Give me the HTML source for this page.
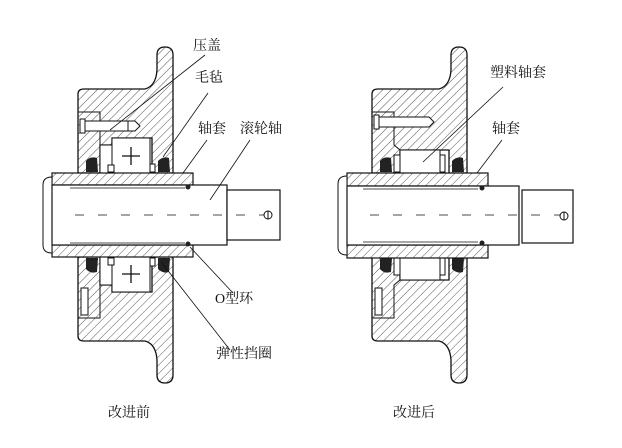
<!DOCTYPE html>
<html><head><meta charset="utf-8"><style>
html,body{margin:0;padding:0;background:#fff;width:622px;height:448px;overflow:hidden}
svg{display:block}
text{font-family:"Liberation Serif","Noto Serif CJK SC","Noto Sans CJK SC",serif;font-size:14px;fill:#111}
</style></head><body>
<svg width="622" height="448" viewBox="0 0 622 448" xmlns="http://www.w3.org/2000/svg">
<defs>
<pattern id="h" patternUnits="userSpaceOnUse" width="6" height="6" patternTransform="rotate(45)">
<rect width="6" height="6" fill="#fff"/><line x1="0" y1="0" x2="0" y2="6" stroke="#444" stroke-width="0.9"/>
</pattern>
<pattern id="hm" patternUnits="userSpaceOnUse" width="6" height="6" patternTransform="rotate(-45)">
<rect width="6" height="6" fill="#fff"/><line x1="0" y1="0" x2="0" y2="6" stroke="#444" stroke-width="0.9"/>
</pattern>
<g id="sealsL">
<path d="M78,112 L100,112 L100,145" fill="none" stroke="#111" stroke-width="1"/>
<path d="M86,172 L86,161 Q90,156 97,158 L98,172 Z" fill="#222"/>
<path d="M158,172 L158,161 Q163,156 169,158 L170,172 Z" fill="#222"/>
<rect x="100" y="145" width="12" height="28" fill="#fff" stroke="#111"/>
<rect x="112" y="138" width="38" height="35" fill="#fff" stroke="#111"/>
<rect x="108" y="165" width="6" height="7" fill="#fff" stroke="#111"/>
<rect x="150" y="164" width="5" height="8" fill="#fff" stroke="#111"/>
<path d="M131,147 V165 M122,156 H140" stroke="#111" stroke-width="1.3"/>
</g>
<path id="bodyL" d="M78,94 Q78,89 84,89 L145,89 Q156,86 157,70 L157,55 Q157,47 165,47 Q173,47 173,55 L173,173 L152,173 L152,138 L112,138 L112,145 L100,145 L100,173 L78,173 Z"/>
<g id="sealsR">
<path d="M78,112 L100,112 L100,145 L106,150" fill="none" stroke="#111" stroke-width="1"/>
<path d="M86,172 L86,161 Q90,156 97,158 L98,172 Z" fill="#222"/>
<path d="M158,172 L158,161 Q163,156 169,158 L170,172 Z" fill="#222"/>
<rect x="100" y="155" width="6" height="17" fill="#fff" stroke="#111"/>
<rect x="106" y="150" width="40" height="23" fill="#fff" stroke="#111"/>
<rect x="146" y="155" width="5" height="17" fill="#fff" stroke="#111"/>
</g>
<path id="bodyR" d="M78,94 Q78,89 84,89 L145,89 Q156,86 157,70 L157,55 Q157,47 165,47 Q173,47 173,55 L173,173 L155,173 L155,150 L106,150 L106,173 L78,173 Z"/>
</defs>

<!-- LEFT -->
<use href="#bodyL" fill="url(#h)" stroke="#111" stroke-width="1.3"/>
<use href="#sealsL"/>
<g transform="translate(0,430) scale(1,-1)">
<use href="#bodyL" fill="url(#hm)" stroke="#111" stroke-width="1.3"/>
<use href="#sealsL"/>
</g>
<path d="M82,121 L135,121 L140,126 L135,131 L82,131 Z" fill="#fff" stroke="#111"/>
<rect x="80" y="119" width="5" height="14" fill="#fff" stroke="#111"/>
<line x1="128" y1="121" x2="128" y2="131" stroke="#111"/>
<rect x="81" y="288" width="7" height="27" fill="#fff" stroke="#111"/>
<rect x="52" y="173" width="141" height="12" fill="url(#h)" stroke="#111" stroke-width="1.2"/>
<rect x="52" y="245" width="141" height="12" fill="url(#h)" stroke="#111" stroke-width="1.2"/>
<path d="M52,177 Q43,177 43,185 L43,245 Q43,253 52,253 Z" fill="#fff" stroke="#111"/>
<rect x="52" y="185" width="175" height="60" fill="#fff" stroke="#111" stroke-width="1.2"/>
<line x1="70" y1="188" x2="185" y2="188" stroke="#111" stroke-width="0.8"/>
<line x1="70" y1="243" x2="185" y2="243" stroke="#111" stroke-width="0.8"/>
<circle cx="188" cy="187" r="2.5" fill="#222"/><circle cx="188" cy="244" r="2.5" fill="#222"/>
<rect x="227" y="190" width="53" height="50" fill="#fff" stroke="#111" stroke-width="1.2"/>
<line x1="75" y1="215" x2="270" y2="215" stroke="#111" stroke-width="0.8" stroke-dasharray="9,14"/>
<circle cx="268" cy="215" r="4" fill="#fff" stroke="#111"/><line x1="268" y1="211" x2="268" y2="219" stroke="#111"/>

<!-- RIGHT -->
<g transform="translate(294,0)">
<use href="#bodyR" fill="url(#h)" stroke="#111" stroke-width="1.3"/>
<use href="#sealsR"/>
</g>
<g transform="translate(294,430) scale(1,-1)">
<use href="#bodyR" fill="url(#hm)" stroke="#111" stroke-width="1.3"/>
<use href="#sealsR"/>
</g>
<path d="M376,117 L429,117 L434,122 L429,127 L376,127 Z" fill="#fff" stroke="#111"/>
<rect x="374" y="115" width="5" height="14" fill="#fff" stroke="#111"/>
<rect x="375" y="288" width="7" height="27" fill="#fff" stroke="#111"/>
<rect x="347" y="173" width="141" height="13" fill="url(#h)" stroke="#111" stroke-width="1.2"/>
<rect x="347" y="245" width="141" height="13" fill="url(#h)" stroke="#111" stroke-width="1.2"/>
<path d="M347,176 Q338,176 338,184 L338,247 Q338,255 347,255 Z" fill="#fff" stroke="#111"/>
<rect x="347" y="186" width="172" height="59" fill="#fff" stroke="#111" stroke-width="1.2"/>
<line x1="363" y1="189" x2="478" y2="189" stroke="#111" stroke-width="0.8"/>
<line x1="363" y1="242" x2="478" y2="242" stroke="#111" stroke-width="0.8"/>
<circle cx="482" cy="188" r="2.5" fill="#222"/><circle cx="482" cy="243" r="2.5" fill="#222"/>
<rect x="522" y="190" width="51" height="53" fill="#fff" stroke="#111" stroke-width="1.2"/>
<line x1="370" y1="215" x2="565" y2="215" stroke="#111" stroke-width="0.8" stroke-dasharray="9,14"/>
<circle cx="564" cy="216" r="4" fill="#fff" stroke="#111"/><line x1="564" y1="212" x2="564" y2="220" stroke="#111"/>

<!-- leaders -->
<g stroke="#111" stroke-width="0.8" fill="none">
<line x1="205" y1="55" x2="110" y2="130"/>
<line x1="208" y1="93" x2="163" y2="157"/>
<line x1="207" y1="140" x2="183" y2="173"/>
<line x1="250" y1="140" x2="210" y2="200"/>
<line x1="233" y1="293" x2="190" y2="247"/>
<line x1="230" y1="350" x2="162" y2="263"/>
<line x1="503" y1="87" x2="423" y2="162"/>
<line x1="502" y1="140" x2="477" y2="173"/>
</g>
<text x="193" y="50">压盖</text>
<text x="195" y="82">毛毡</text>
<text x="198" y="133">轴套</text>
<text x="240" y="133">滚轮轴</text>
<text x="215" y="303">O型环</text>
<text x="216" y="358">弹性挡圈</text>
<text x="490" y="77">塑料轴套</text>
<text x="492" y="133">轴套</text>
<text x="108" y="417">改进前</text>
<text x="393" y="417">改进后</text>
</svg>
</body></html>
